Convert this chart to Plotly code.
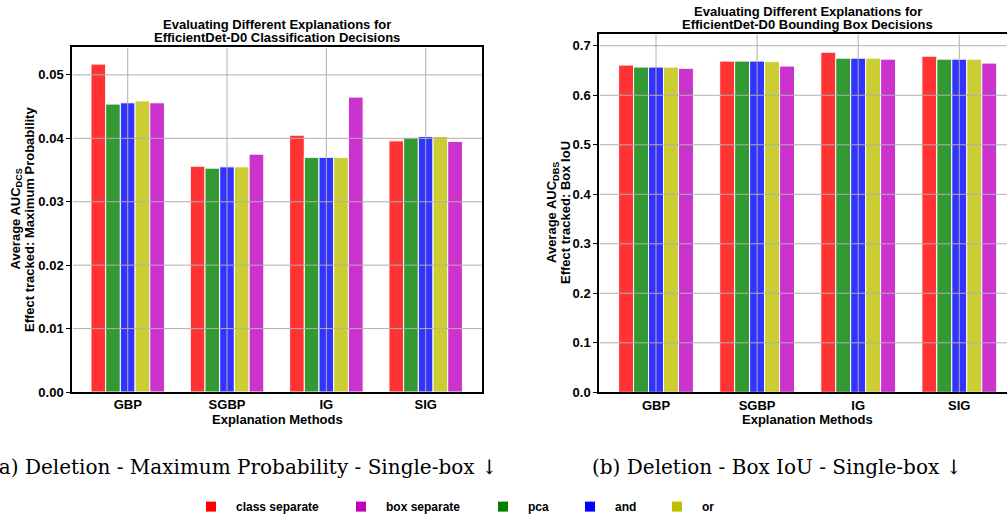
import plotly.graph_objects as go

methods = ["GBP", "SGBP", "IG", "SIG"]
series_names = ["class separate", "pca", "and", "or", "box separate"]
legend_order = ["class separate", "box separate", "pca", "and", "or"]

dcs_class_separate = [0.0517, 0.0356, 0.0405, 0.0396]
dcs_pca = [0.0454, 0.0353, 0.0370, 0.0401]
dcs_and = [0.0456, 0.0355, 0.0370, 0.0403]
dcs_or = [0.0459, 0.0355, 0.0370, 0.0403]
dcs_box_separate = [0.0456, 0.0375, 0.0465, 0.0395]

dbs_class_separate = [0.661, 0.669, 0.687, 0.679]
dbs_pca = [0.657, 0.669, 0.675, 0.673]
dbs_and = [0.657, 0.669, 0.675, 0.673]
dbs_or = [0.657, 0.668, 0.675, 0.673]
dbs_box_separate = [0.6545, 0.659, 0.673, 0.665]

dcs_ticks = [0.00, 0.01, 0.02, 0.03, 0.04, 0.05]
dbs_ticks = [0.0, 0.1, 0.2, 0.3, 0.4, 0.5, 0.6, 0.7]

dcs = [dcs_class_separate, dcs_pca, dcs_and, dcs_or, dcs_box_separate]
dbs = [dbs_class_separate, dbs_pca, dbs_and, dbs_or, dbs_box_separate]

full_colors = {"class separate": "#ff0000", "pca": "#008000", "and": "#0000ff",
               "or": "#bfbf00", "box separate": "#bf00bf"}
bar_colors = {"class separate": "rgb(255,51,51)", "pca": "rgb(51,153,51)",
              "and": "rgb(51,51,255)", "or": "rgb(204,204,51)",
              "box separate": "rgb(204,51,204)"}

W, H = 1007, 514
FONT = "Liberation Sans, Arial, sans-serif"
SERIF = "DejaVu Serif, serif"

fig = go.Figure()
for name, vals in zip(series_names, dcs):
    fig.add_trace(go.Bar(x=methods, y=vals, name=name, showlegend=False,
                         marker=dict(color=bar_colors[name], line=dict(color="white", width=1)),
                         xaxis="x", yaxis="y"))
for name, vals in zip(series_names, dbs):
    fig.add_trace(go.Bar(x=methods, y=vals, name=name, showlegend=False,
                         marker=dict(color=bar_colors[name], line=dict(color="white", width=1)),
                         xaxis="x2", yaxis="y2"))

# one legend per entry so the spacing follows the reference
legend_centers_px = [212, 362, 504, 591, 678]
legend_y_px = 506.6
legend_layouts = {}
for i, (name, cx) in enumerate(zip(legend_order, legend_centers_px)):
    key = "legend" if i == 0 else f"legend{i + 1}"
    fig.add_trace(go.Scatter(x=[None], y=[None], mode="markers", name=name,
                             legend=key, showlegend=True,
                             marker=dict(symbol="square", size=10, color=full_colors[name]),
                             xaxis="x", yaxis="y"))
    legend_layouts[key] = dict(
        orientation="h", xref="container", yref="container",
        x=(cx - 26) / W, y=1 - legend_y_px / H, xanchor="left", yanchor="middle",
        itemwidth=40, borderwidth=0, bgcolor="rgba(0,0,0,0)",
        font=dict(family=FONT, size=12, color="black", weight="bold"))


def px_x(p):
    return p / W


def px_y(p):
    return 1 - p / H


# plot boxes in pixels
L1, R1, T1, B1 = 72, 482, 47, 392
L2, R2, T2, B2 = 599, 1007, 33.7, 392.3

tickfont = dict(family=FONT, size=13, color="black", weight="bold")
common_x = dict(type="category", showline=True, linecolor="black", linewidth=1.5,
                showgrid=False, ticks="", tickfont=tickfont, ticklabelstandoff=0,
                zeroline=False, fixedrange=True)
common_y = dict(showline=True, linecolor="black", linewidth=1.5, showgrid=False,
                ticks="outside", ticklen=4, tickwidth=1, tickcolor="black",
                tickfont=tickfont, zeroline=False)

fig.update_layout(
    width=W, height=H, margin=dict(l=0, r=0, t=0, b=0, autoexpand=False),
    paper_bgcolor="white", plot_bgcolor="white",
    barmode="group", bargap=0.26, bargroupgap=0,
    xaxis=dict(common_x, domain=[px_x(L1), px_x(R1)], range=[-0.561, 3.567], mirror=True, anchor="y"),
    yaxis=dict(common_y, domain=[px_y(B1), px_y(T1)], range=[0, 0.0544], mirror=True,
               tickvals=dcs_ticks, ticktext=[f"{v:.2f}" for v in dcs_ticks], anchor="x"),
    xaxis2=dict(common_x, domain=[px_x(L2), 1.0], range=[-0.564, 3.472], mirror=True, anchor="y2"),
    yaxis2=dict(common_y, domain=[px_y(B2), px_y(T2)], range=[0, 0.7244], mirror=False,
                tickvals=dbs_ticks, ticktext=[f"{v:.1f}" for v in dbs_ticks], anchor="x2"),
    showlegend=True,
    **legend_layouts,
)

# grid lines drawn above bars (as in the reference)
shapes = []
gridc = "rgb(176,176,176)"
for xr, yr, ticks in (("x", "y", dcs_ticks), ("x2", "y2", dbs_ticks)):
    for m in methods:
        shapes.append(dict(type="line", xref=xr, yref=yr + " domain", x0=m, x1=m, y0=0, y1=0.997,
                           line=dict(color=gridc, width=1), layer="above"))
    for t in ticks[1:]:
        shapes.append(dict(type="line", xref=xr + " domain", yref=yr, x0=0.002, x1=1, y0=t, y1=t,
                           line=dict(color=gridc, width=1), layer="above"))
fig.update_layout(shapes=shapes)

ann = []


def text(x, y, s, size=13, angle=0, family=FONT, weight="bold", xanchor="center", yanchor="middle"):
    ann.append(dict(x=px_x(x), y=px_y(y), xref="paper", yref="paper", text=s, showarrow=False,
                    textangle=angle, xanchor=xanchor, yanchor=yanchor,
                    font=dict(family=family, size=size, color="black", weight=weight)))


# titles
text((L1 + R1) / 2, 24, "Evaluating Different Explanations for")
text((L1 + R1) / 2, 37.5, "EfficientDet-D0 Classification Decisions")
text(807.5, 11, "Evaluating Different Explanations for")
text(807.5, 24.5, "EfficientDet-D0 Bounding Box Decisions")
# x titles
text((L1 + R1) / 2, 419, "Explanation Methods")
text(807.5, 419, "Explanation Methods")
# y titles
text(16, (T1 + B1) / 2, "Average AUC<sub>DCS</sub>", angle=-90)
text(29.5, (T1 + B1) / 2, "Effect tracked: Maximum Probability", angle=-90)
text(552, (T2 + B2) / 2, "Average AUC<sub>DBS</sub>", angle=-90)
text(565, (T2 + B2) / 2, "Effect tracked: Box IoU", angle=-90)
# captions
text(244, 467, "(a) Deletion - Maximum Probability - Single-box ↓", size=20, family=SERIF, weight="normal")
text(776.7, 467, "(b) Deletion - Box IoU - Single-box ↓", size=20, family=SERIF, weight="normal")
fig.update_layout(annotations=ann)

fig.write_html("out.html")
